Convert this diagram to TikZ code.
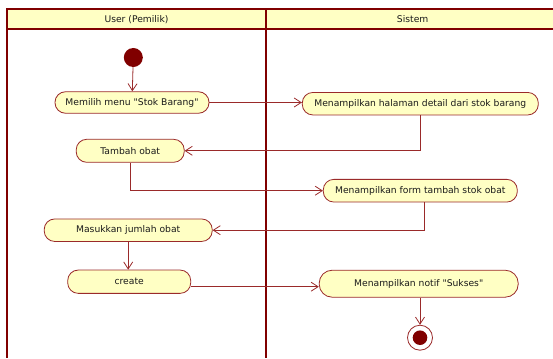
\documentclass[tikz,border=0pt]{standalone}
\usepackage{fontspec}
\setmainfont{DejaVu Sans}[Ligatures=TeXOff]
\usetikzlibrary{arrows.meta}
\definecolor{lane}{HTML}{800000}
\definecolor{edge}{HTML}{9A2A2A}
\definecolor{actfill}{HTML}{FFFFC4}
\definecolor{txt}{HTML}{1A1A1A}
\tikzset{
  act/.style={draw=edge, fill=actfill, line width=0.8pt, rounded corners=10.5pt,
    inner sep=0pt, text=txt, font=\fontsize{9.2}{11}\selectfont},
  flow/.style={draw=edge, line width=0.8pt, -{Straight Barb[length=7pt,width=9pt,line width=0.8pt]}},
  lanehead/.style={text=txt, font=\fontsize{9.2}{11}\selectfont},
}
\begin{document}
\begin{tikzpicture}[x=1pt,y=-1pt]
\useasboundingbox (0,0) rectangle (553,358);
% swimlane frame
\fill[actfill] (7,9) rectangle (553,29);
\draw[lane, line width=1.6pt] (553,9) -- (7,9) -- (7,358);
\draw[lane, line width=1.6pt] (7,29) -- (553,29);
\draw[lane, line width=2.6pt] (266,9) -- (266,358);
\node[lanehead] (hu) at (136.5,19.5) {User (Pemilik)};
\node[lanehead] (hs) at (412.7,19.5) {Sistem};
% activities
\node[circle, fill=lane, minimum size=19pt, inner sep=0pt] (start) at (133.3,57.5) {};
\node[act, minimum width=154pt, minimum height=21.5pt] (n1) at (132,102.5) {Memilih menu "Stok Barang"};
\node[act, minimum width=236pt, minimum height=22.5pt] (n2) at (420.3,103.7) {Menampilkan halaman detail dari stok barang};
\node[act, minimum width=108pt, minimum height=23pt] (n3) at (130.2,150.8) {Tambah obat};
\node[act, minimum width=194pt, minimum height=22.7pt] (n4) at (420.3,190.7) {Menampilkan form tambah stok obat};
\node[act, minimum width=168pt, minimum height=22.5pt] (n5) at (128.2,230.2) {Masukkan jumlah obat};
\node[act, minimum width=123pt, minimum height=23.3pt] (n6) at (129.2,281.7) {create};
\node[act, minimum width=199pt, minimum height=27pt, rounded corners=13pt] (n7) at (418.7,283.7) {Menampilkan notif "Sukses"};
\node[circle, draw=edge, fill=white, line width=0.8pt, minimum size=25pt, inner sep=0pt] (end) at (420,337.7) {};
\node[circle, fill=lane, minimum size=14.6pt, inner sep=0pt] (endin) at (end.center) {};
% exit points of the flows that leave off-centre
\coordinate (n4out) at ([xshift=4pt]n4.south);
\coordinate (n6out) at ([yshift=-5pt]n6.east);
% control flow
\draw[flow] (start) -- (n1);
\draw[flow] (n1.east) -- (n2.west |- n1.east);
\draw[flow] (n2.south) |- (n3.east);
\draw[flow] (n3.south) |- (n4.west);
\draw[flow] (n4out) |- (n5.east);
\draw[flow] (n5.south) -- (n5.south |- n6.north);
\draw[flow] (n6out) -- (n7.west |- n6out);
\draw[flow] (n7.south -| end.north) -- (end.north);
\end{tikzpicture}
\end{document}
